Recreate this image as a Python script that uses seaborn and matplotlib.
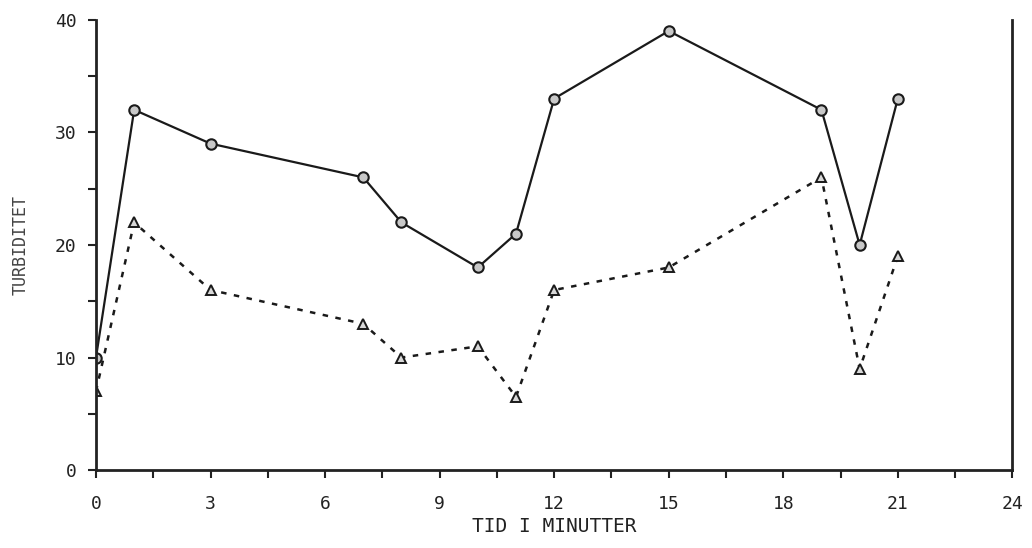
import matplotlib
matplotlib.use("Agg")
import matplotlib.pyplot as plt
from matplotlib.ticker import MultipleLocator
import pandas as pd
import seaborn as sns

# minutes and turbidity readings
tid = [0, 1, 3, 7, 8, 10, 11, 12, 15, 19, 20, 21]
turb_a = [10, 32, 29, 26, 22, 18, 21, 33, 39, 32, 20, 33]      # solid, circles
turb_b = [7, 22, 16, 13, 10, 11, 6.5, 16, 18, 26, 9, 19]       # dashed, triangles

df_a = pd.DataFrame({"tid": tid, "turb": turb_a})
df_b = pd.DataFrame({"tid": tid, "turb": turb_b})

sns.set_style("white")
plt.rcParams["font.family"] = ["DejaVu Sans Mono", "DejaVu Sans"]

fig = plt.figure(figsize=(10.32, 5.48), dpi=100)
ax = fig.add_axes([0.093, 0.142, 0.888, 0.822])

sns.lineplot(data=df_a, x="tid", y="turb", ax=ax, color="#1a1a1a", linewidth=1.6,
             marker="o", markersize=7.5, markerfacecolor="#c8c8c8",
             markeredgecolor="#1a1a1a", markeredgewidth=1.5)
sns.lineplot(data=df_b, x="tid", y="turb", ax=ax, color="#1a1a1a", linewidth=1.8,
             linestyle=(0, (2.2, 3)), marker="^", markersize=7.5,
             markerfacecolor="#d8d8d8", markeredgecolor="#1a1a1a", markeredgewidth=1.4)

ax.set_xlim(0, 24)
ax.set_ylim(0, 40)
ax.xaxis.set_major_locator(MultipleLocator(3))
ax.xaxis.set_minor_locator(MultipleLocator(1.5))
ax.yaxis.set_major_locator(MultipleLocator(10))
ax.yaxis.set_minor_locator(MultipleLocator(5))
ax.tick_params(axis="both", which="both", direction="out", color="#222222",
               width=1.5, length=6, labelsize=13, labelcolor="#222222",
               bottom=True, left=True)
ax.tick_params(axis="x", pad=12)
ax.tick_params(axis="y", pad=8)

for s in ["left", "bottom", "right"]:
    ax.spines[s].set_color("#222222")
    ax.spines[s].set_linewidth(2)
ax.spines["top"].set_visible(False)

ax.set_xlabel("TID I MINUTTER", fontsize=14, color="#222222", labelpad=3)
ax.set_ylabel("TURBIDITET", fontsize=12, color="#444444", labelpad=18)

fig.savefig("out.png", dpi=100)
